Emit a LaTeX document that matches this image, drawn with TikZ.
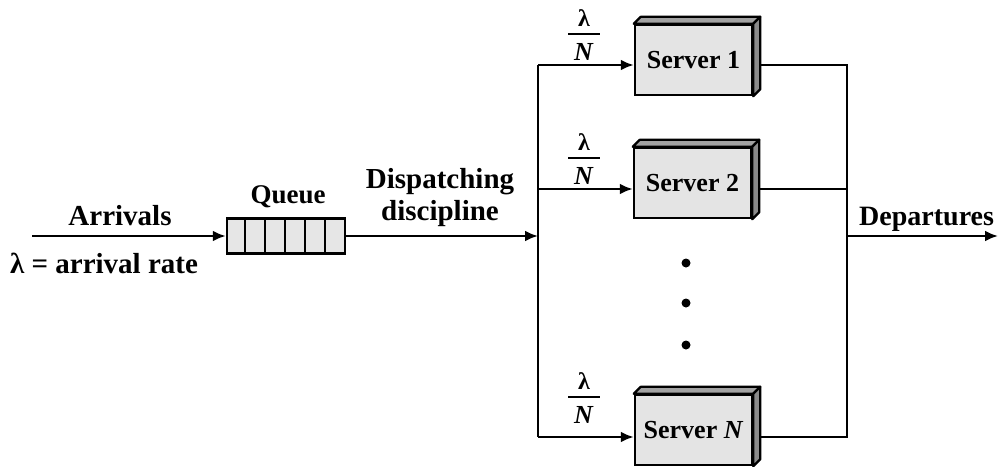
\documentclass[tikz,border=0pt]{standalone}
\usepackage{fontspec}
\setmainfont{Liberation Serif}
\usetikzlibrary{arrows.meta}
\definecolor{frontgray}{HTML}{E4E4E4}
\definecolor{topgray}{HTML}{A2A2A2}
\definecolor{sidegray}{HTML}{8A8A8A}
\definecolor{cellgray}{HTML}{E6E6E6}
% lambda over N, with a heavy fraction bar
\newcommand\ratefrac{\vbox{\hbox to 32pt{\hss{\fontsize{24}{26}\selectfont λ}\hss}\kern6pt\hrule height 2.5pt\kern7.5pt\hbox to 32pt{\hss\textit{N}\hss}}}
% top and right faces that give a server box its depth
\newcommand\boxfaces[1]{%
  \filldraw[facetop] (#1.north west) -- ++(7,-7) -- ([shift={(7,-7)}]#1.north east) -- (#1.north east) -- cycle;
  \filldraw[faceside] (#1.north east) -- ++(7,-7) -- ([shift={(7,-7)}]#1.south east) -- (#1.south east) -- cycle;}
\begin{document}
\begin{tikzpicture}[x=1pt,y=-1pt,
  lbl/.style={font=\fontsize{29}{33}\selectfont\bfseries, inner sep=0pt, anchor=base},
  fraclbl/.style={font=\fontsize{26}{30}\selectfont\bfseries, inner sep=0pt, anchor=base},
  ln/.style={line width=2.5pt},
  arr/.style={ln, -{Latex[length=13pt,width=11pt]}},
  server/.style={draw, line width=2.5pt, fill=frontgray, minimum width=117pt, minimum height=70pt,
    inner sep=0pt, font=\fontsize{26}{30}\selectfont\bfseries},
  queuebox/.style={draw, line width=2.5pt, fill=cellgray, minimum width=118pt, minimum height=35pt, inner sep=0pt},
  facetop/.style={draw, line width=2.2pt, fill=topgray, line join=round},
  faceside/.style={draw, line width=2.2pt, fill=sidegray, line join=round},
  dot/.style={circle, fill=black, inner sep=0pt, minimum size=9pt},
]
\useasboundingbox (0,0) rectangle (998,466);

% queue and servers
\node[queuebox] (q) at (286,236) {};
\foreach \dx in {19,39,59,79,99}
  \draw[ln] ([xshift=\dx]q.north west) -- ([xshift=\dx]q.south west);

\node[server] (s1) at (693.5,60) {Server 1};
\node[server] (s2) at (692.5,183) {Server 2};
\node[server] (sN) at (693.5,430) {Server \textit{N}};

\node[dot] (d1) at (686,263) {};
\node[dot] (d2) at (686,303) {};
\node[dot] (d3) at (686,345) {};

% connection points
\coordinate (src) at (32,236);
\coordinate (hub) at (538,236);
\coordinate (b1) at (538,65);
\coordinate (b2) at (538,189);
\coordinate (bN) at (538,437);
\coordinate (m1) at (847,65);
\coordinate (mN) at (847,437);
\coordinate (join) at (847,236);
\coordinate (sink) at (998,236);

% flow lines
\draw[arr] (src) -- (q.west);
\draw[arr] (q.east) -- (hub);
\draw[ln] (b1) -- (bN);
\draw[arr] (b1) -- (b1 -| s1.west);
\draw[arr] (b2) -- (b2 -| s2.west);
\draw[arr] (bN) -- (bN -| sN.west);
\draw[ln] (b1 -| s1.east) -- (m1) -- (mN) -- (bN -| sN.east);
\draw[ln] (b2 -| s2.east) -- (b2 -| m1);
\draw[arr] (join) -- (sink);

\boxfaces{s1}
\boxfaces{s2}
\boxfaces{sN}

% labels
\node[lbl] (arrivals) at (120,225) {Arrivals};
\node[lbl] (rate) at (104,273) {λ = arrival rate};
\node[lbl, font=\fontsize{27}{31}\selectfont\bfseries] (queue) at (288,203) {Queue};
\node[lbl] (disp1) at (440,188) {Dispatching};
\node[lbl] (disp2) at (440,220) {discipline};
\node[lbl, anchor=base west, font=\fontsize{28}{32}\selectfont\bfseries] (departures) at (859,225) {Departures};

\node[fraclbl] (f1) at (584,60) {\ratefrac};
\node[fraclbl] (f2) at (584,184) {\ratefrac};
\node[fraclbl] (fN) at (584,423) {\ratefrac};
\end{tikzpicture}
\end{document}
